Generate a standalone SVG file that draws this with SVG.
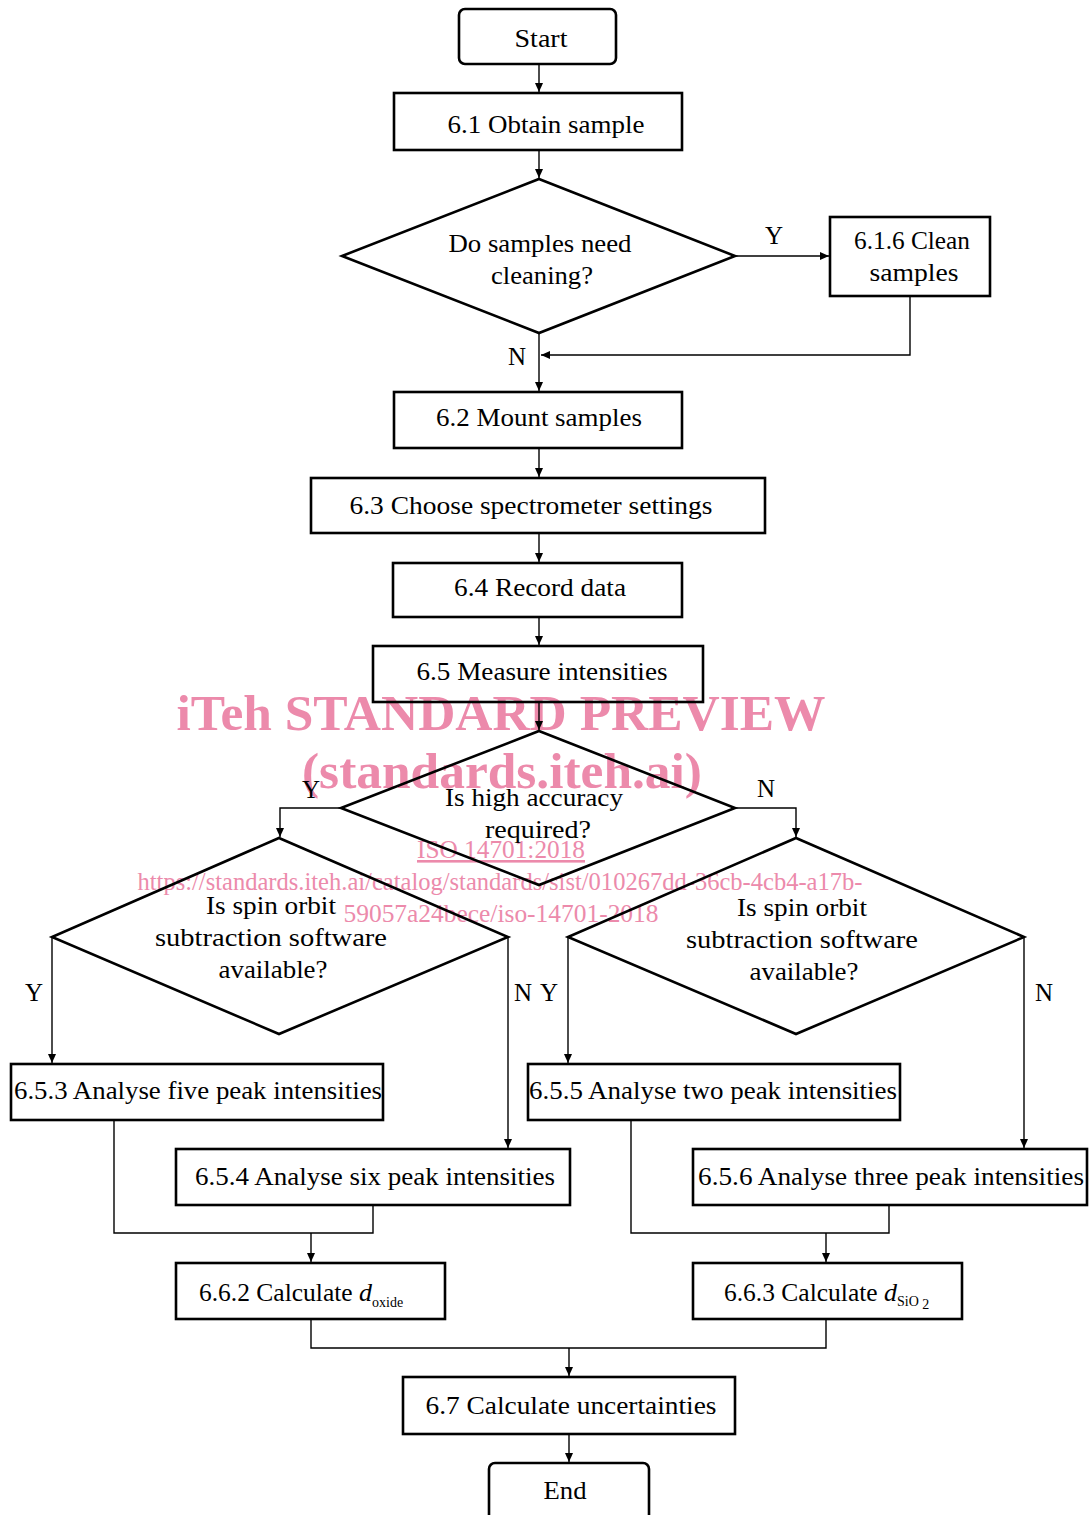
<svg xmlns="http://www.w3.org/2000/svg" width="1091" height="1515" viewBox="0 0 1091 1515">
<style>
  .box{fill:none;stroke:#000;stroke-width:2.6}
  .dia{fill:none;stroke:#000;stroke-width:2.6}
  .ln{fill:none;stroke:#000;stroke-width:1.4}
  .t{font-family:"Liberation Serif","Times New Roman",serif;font-size:26px;fill:#000;text-anchor:middle}
  .lab{font-family:"Liberation Serif","Times New Roman",serif;font-size:25px;fill:#000;text-anchor:middle}
  .wm{font-family:"Liberation Serif","Times New Roman",serif;fill:#ec8aab;text-anchor:middle}
</style>
<defs>
  <marker id="ah" markerWidth="10" markerHeight="10" refX="9" refY="4" orient="auto" markerUnits="userSpaceOnUse">
    <path d="M0,0 L9,4 L0,8 Z" fill="#000"/>
  </marker>
</defs>
<rect width="1091" height="1515" fill="#fff"/>

<g id="watermark">
  <text class="wm" x="501" y="730" font-size="51" font-weight="bold" textLength="649" lengthAdjust="spacingAndGlyphs">iTeh STANDARD PREVIEW</text>
  <text class="wm" x="502" y="788" font-size="51" font-weight="bold" textLength="400" lengthAdjust="spacingAndGlyphs">(standards.iteh.ai)</text>
  <text class="wm" x="501" y="858" font-size="26" text-decoration="underline" textLength="168" lengthAdjust="spacingAndGlyphs">ISO 14701:2018</text>
  <text class="wm" x="500" y="890" font-size="26" textLength="725" lengthAdjust="spacingAndGlyphs">https://standards.iteh.ai/catalog/standards/sist/010267dd-36cb-4cb4-a17b-</text>
  <text class="wm" x="501" y="922" font-size="26" textLength="315" lengthAdjust="spacingAndGlyphs">59057a24bece/iso-14701-2018</text>
</g>

<g id="connectors">
  <line class="ln" x1="539" y1="64" x2="539" y2="92" marker-end="url(#ah)"/>
  <line class="ln" x1="539" y1="150" x2="539" y2="178" marker-end="url(#ah)"/>
  <line class="ln" x1="735" y1="256" x2="829" y2="256" marker-end="url(#ah)"/>
  <polyline class="ln" points="910,296 910,355 541,355" marker-end="url(#ah)"/>
  <line class="ln" x1="539" y1="333" x2="539" y2="391" marker-end="url(#ah)"/>
  <line class="ln" x1="539" y1="448" x2="539" y2="477" marker-end="url(#ah)"/>
  <line class="ln" x1="539" y1="533" x2="539" y2="562" marker-end="url(#ah)"/>
  <line class="ln" x1="539" y1="617" x2="539" y2="645" marker-end="url(#ah)"/>
  <line class="ln" x1="539" y1="702" x2="539" y2="730" marker-end="url(#ah)"/>
  <polyline class="ln" points="341,808 280,808 280,837" marker-end="url(#ah)"/>
  <polyline class="ln" points="735,808 796,808 796,837" marker-end="url(#ah)"/>
  <line class="ln" x1="52" y1="937" x2="52" y2="1063" marker-end="url(#ah)"/>
  <line class="ln" x1="508" y1="937" x2="508" y2="1148" marker-end="url(#ah)"/>
  <line class="ln" x1="568" y1="937" x2="568" y2="1063" marker-end="url(#ah)"/>
  <line class="ln" x1="1024" y1="937" x2="1024" y2="1148" marker-end="url(#ah)"/>
  <polyline class="ln" points="114,1120 114,1233 373,1233 373,1205"/>
  <line class="ln" x1="311" y1="1233" x2="311" y2="1262" marker-end="url(#ah)"/>
  <polyline class="ln" points="631,1120 631,1233 889,1233 889,1205"/>
  <line class="ln" x1="826" y1="1233" x2="826" y2="1262" marker-end="url(#ah)"/>
  <polyline class="ln" points="311,1319 311,1348 826,1348 826,1319"/>
  <line class="ln" x1="569" y1="1348" x2="569" y2="1376" marker-end="url(#ah)"/>
  <line class="ln" x1="569" y1="1434" x2="569" y2="1462" marker-end="url(#ah)"/>
  <text class="lab" x="774" y="244">Y</text>
  <text class="lab" x="517" y="365">N</text>
  <text class="lab" x="311" y="798">Y</text>
  <text class="lab" x="766" y="797">N</text>
  <text class="lab" x="34" y="1001">Y</text>
  <text class="lab" x="523" y="1001">N</text>
  <text class="lab" x="549" y="1001">Y</text>
  <text class="lab" x="1044" y="1001">N</text>
</g>

<g id="start">
  <rect class="box" x="459" y="9" width="157" height="55" rx="6"/>
  <text class="t" x="541" y="47" textLength="53" lengthAdjust="spacingAndGlyphs">Start</text>
</g>
<g id="n61">
  <rect class="box" x="394" y="93" width="288" height="57"/>
  <text class="t" x="546" y="133" textLength="197" lengthAdjust="spacingAndGlyphs">6.1 Obtain sample</text>
</g>
<g id="d1">
  <polygon class="dia" points="539,179 735,256 539,333 342,256"/>
  <text class="t" x="540" y="252" textLength="183" lengthAdjust="spacingAndGlyphs">Do samples need</text>
  <text class="t" x="542" y="284" textLength="102" lengthAdjust="spacingAndGlyphs">cleaning?</text>
</g>
<g id="n616">
  <rect class="box" x="830" y="217" width="160" height="79"/>
  <text class="t" x="912" y="249" textLength="116" lengthAdjust="spacingAndGlyphs">6.1.6 Clean</text>
  <text class="t" x="914" y="281" textLength="89" lengthAdjust="spacingAndGlyphs">samples</text>
</g>
<g id="n62">
  <rect class="box" x="394" y="392" width="288" height="56"/>
  <text class="t" x="539" y="426" textLength="206" lengthAdjust="spacingAndGlyphs">6.2 Mount samples</text>
</g>
<g id="n63">
  <rect class="box" x="311" y="478" width="454" height="55"/>
  <text class="t" x="531" y="514" textLength="363" lengthAdjust="spacingAndGlyphs">6.3 Choose spectrometer settings</text>
</g>
<g id="n64">
  <rect class="box" x="393" y="563" width="289" height="54"/>
  <text class="t" x="540" y="596" textLength="172" lengthAdjust="spacingAndGlyphs">6.4 Record data</text>
</g>
<g id="n65">
  <rect class="box" x="373" y="646" width="330" height="56"/>
  <text class="t" x="542" y="680" textLength="251" lengthAdjust="spacingAndGlyphs">6.5 Measure intensities</text>
</g>
<g id="d2">
  <polygon class="dia" points="539,731 735,808 539,885 341,808"/>
  <text class="t" x="534" y="806" textLength="178" lengthAdjust="spacingAndGlyphs">Is high accuracy</text>
  <text class="t" x="538" y="838" textLength="106" lengthAdjust="spacingAndGlyphs">required?</text>
</g>
<g id="d3">
  <polygon class="dia" points="279,838 508,937 279,1034 52,937"/>
  <text class="t" x="271" y="914" textLength="130" lengthAdjust="spacingAndGlyphs">Is spin orbit</text>
  <text class="t" x="271" y="946" textLength="232" lengthAdjust="spacingAndGlyphs">subtraction software</text>
  <text class="t" x="273" y="978" textLength="109" lengthAdjust="spacingAndGlyphs">available?</text>
</g>
<g id="d4">
  <polygon class="dia" points="796,838 1024,937 796,1034 568,937"/>
  <text class="t" x="802" y="916" textLength="130" lengthAdjust="spacingAndGlyphs">Is spin orbit</text>
  <text class="t" x="802" y="948" textLength="232" lengthAdjust="spacingAndGlyphs">subtraction software</text>
  <text class="t" x="804" y="980" textLength="109" lengthAdjust="spacingAndGlyphs">available?</text>
</g>
<g id="n653">
  <rect class="box" x="11" y="1064" width="372" height="56"/>
  <text class="t" x="198" y="1099" textLength="368" lengthAdjust="spacingAndGlyphs">6.5.3 Analyse five peak intensities</text>
</g>
<g id="n654">
  <rect class="box" x="176" y="1149" width="394" height="56"/>
  <text class="t" x="375" y="1185" textLength="360" lengthAdjust="spacingAndGlyphs">6.5.4 Analyse six peak intensities</text>
</g>
<g id="n655">
  <rect class="box" x="528" y="1064" width="372" height="56"/>
  <text class="t" x="713" y="1099" textLength="368" lengthAdjust="spacingAndGlyphs">6.5.5 Analyse two peak intensities</text>
</g>
<g id="n656">
  <rect class="box" x="693" y="1149" width="394" height="56"/>
  <text class="t" x="891" y="1185" textLength="386" lengthAdjust="spacingAndGlyphs">6.5.6 Analyse three peak intensities</text>
</g>
<g id="n662">
  <rect class="box" x="176" y="1263" width="269" height="56"/>
  <text class="t" x="199" y="1301" style="text-anchor:start"><tspan textLength="160" lengthAdjust="spacingAndGlyphs">6.6.2 Calculate </tspan><tspan font-style="italic">d</tspan><tspan font-size="14" dy="6">oxide</tspan></text>
</g>
<g id="n663">
  <rect class="box" x="693" y="1263" width="269" height="56"/>
  <text class="t" x="724" y="1301" style="text-anchor:start"><tspan textLength="160" lengthAdjust="spacingAndGlyphs">6.6.3 Calculate </tspan><tspan font-style="italic">d</tspan><tspan font-size="14" dy="5">SiO</tspan><tspan font-size="14" dy="3"> 2</tspan></text>
</g>
<g id="n67">
  <rect class="box" x="403" y="1377" width="332" height="57"/>
  <text class="t" x="571" y="1414" textLength="291" lengthAdjust="spacingAndGlyphs">6.7 Calculate uncertainties</text>
</g>
<g id="end">
  <rect class="box" x="489" y="1463" width="160" height="70" rx="6"/>
  <text class="t" x="565" y="1499" textLength="43" lengthAdjust="spacingAndGlyphs">End</text>
</g>
</svg>
